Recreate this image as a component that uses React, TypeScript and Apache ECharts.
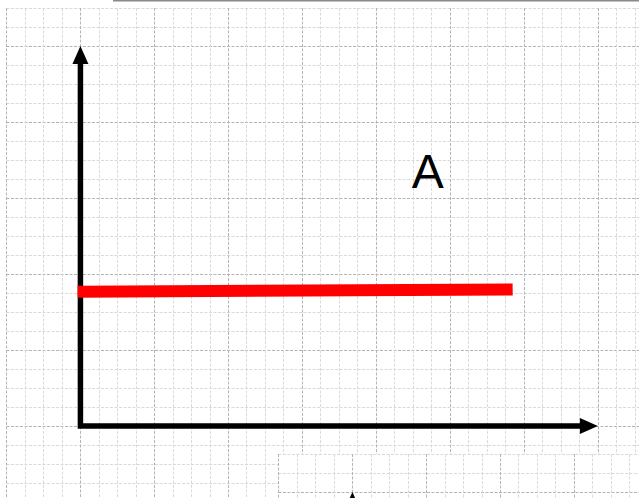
import React, { useEffect, useRef } from "react";
import * as echarts from "echarts";

// Graph-paper units (one cell = 1)
const xRange = [-4, 32];
const yRange = [-4, 22];
const axisXEnd = 28; // tip of the horizontal arrow
const axisYEnd = 20; // tip of the vertical arrow
const redLine = [
  [-0.15, 7.07],
  [23.39, 7.18],
];
const labelNames = ["A"];
const labelPoints = [[18.8, 13.38]];

const CELL_X = 18.48;
const CELL_Y = 19.0;
const HEAD_LEN = 18;
const HEAD_W = 16;

const gridLineColors = ["#b4b4b4", "#dadada", "#dadada", "#dadada"];

function makeAxis(kind: "x" | "y", gridIndex: number, z: number) {
  const r = kind === "x" ? xRange : yRange;
  return {
    type: "value",
    gridIndex,
    min: r[0],
    max: r[1],
    interval: 1,
    z,
    axisLine: { show: false },
    axisTick: { show: false },
    axisLabel: { show: false },
    splitLine: {
      show: true,
      lineStyle: { color: gridLineColors, width: 1, type: [3, 1.5] },
    },
  };
}

function axesSeries(gridIndex: number, z: number) {
  const hx = HEAD_LEN / CELL_X;
  const hy = HEAD_LEN / CELL_Y;
  return [
    {
      type: "line",
      xAxisIndex: gridIndex,
      yAxisIndex: gridIndex,
      z,
      symbol: "none",
      silent: true,
      clip: false,
      data: [
        [0, axisYEnd - hy + 0.05],
        [0, 0],
        [axisXEnd - hx + 0.05, 0],
      ],
      lineStyle: { color: "#000", width: 5.5, join: "miter", cap: "butt" },
    },
    {
      type: "scatter",
      xAxisIndex: gridIndex,
      yAxisIndex: gridIndex,
      z: z + 1,
      silent: true,
      clip: false,
      symbol: "triangle",
      symbolSize: [HEAD_W, HEAD_LEN],
      itemStyle: { color: "#000", opacity: 1 },
      data: [
        { value: [0, axisYEnd - hy / 2] },
        { value: [axisXEnd - hx / 2, 0], symbolRotate: -90 },
      ],
    },
  ];
}

export default function App() {
  const ref = useRef<HTMLDivElement>(null);
  useEffect(() => {
    const chart = echarts.init(ref.current!, null, { renderer: "svg" });
    const gridW = (xRange[1] - xRange[0]) * CELL_X;
    const gridH = (yRange[1] - yRange[0]) * CELL_Y;
    chart.setOption({
      animation: false,
      backgroundColor: "#ffffff",
      grid: [
        {
          left: 6.5,
          top: 8,
          width: gridW,
          height: gridH,
          show: false,
          z: 0,
          containLabel: false,
          outerBoundsMode: "none",
        },
        {
          left: 278.5,
          top: 454,
          width: gridW,
          height: gridH,
          show: true,
          backgroundColor: "#ffffff",
          borderWidth: 0,
          z: 5,
          containLabel: false,
          outerBoundsMode: "none",
        },
      ],
      xAxis: [makeAxis("x", 0, 0), makeAxis("x", 1, 6)],
      yAxis: [makeAxis("y", 0, 0), makeAxis("y", 1, 6)],
      graphic: [
        {
          type: "rect",
          left: 113,
          top: 0,
          shape: { width: 526, height: 1.5 },
          style: { fill: "#8a8a8a" },
          z: 10,
        },
      ],
      series: [
        ...axesSeries(0, 2),
        {
          type: "line",
          z: 4,
          symbol: "none",
          silent: true,
          data: redLine,
          lineStyle: { color: "#ff0000", width: 12, cap: "butt" },
        },
        {
          type: "scatter",
          z: 4,
          silent: true,
          symbolSize: 0,
          itemStyle: { opacity: 1 },
          data: labelPoints.map((p, i) => ({ value: p, name: labelNames[i] })),
          label: {
            show: true,
            position: "inside",
            formatter: (p: any) => p.name,
            fontSize: 48,
            fontFamily: "Liberation Sans",
            color: "#000000",
            opacity: 1,
            textBorderWidth: 0,
          },
        },
        ...axesSeries(1, 8),
      ],
    });
    return () => chart.dispose();
  }, []);
  return (
    <div
      ref={ref}
      style={{ position: "fixed", left: 0, top: 0, width: 639, height: 498 }}
    />
  );
}
